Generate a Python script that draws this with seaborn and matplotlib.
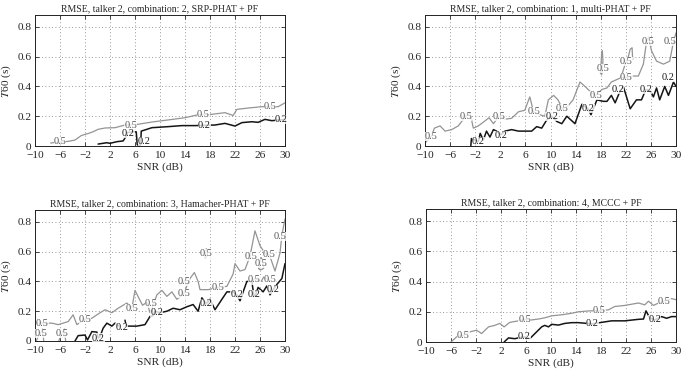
import matplotlib
matplotlib.use("Agg")
import matplotlib.pyplot as plt
import seaborn as sns

# ---------------- data ----------------
x_ticks = [-10, -6, -2, 2, 6, 10, 14, 18, 22, 26, 30]
y_ticks = [0, 0.2, 0.4, 0.6, 0.8]
x_tick_labels = ["\u221210", "\u22126", "\u22122", "2", "6", "10", "14", "18", "22", "26", "30"]
y_tick_labels = ["0", "0.2", "0.4", "0.6", "0.8"]
titles = [
    "RMSE, talker 2, combination: 2, SRP-PHAT + PF",
    "RMSE, talker 2, combination: 1, multi-PHAT + PF",
    "RMSE, talker 2, combination: 3, Hamacher-PHAT + PF",
    "RMSE, talker 2, combination: 4, MCCC + PF",
]
x_label = "SNR (dB)"
y_label = "$T$60 (s)"

# Panel 1: SRP-PHAT + PF
p1_gray_x = [-7.5, -6.5, -4.7, -3.6, -2.6, -2.0, -1.4, -0.7, 0.1, 1.2, 2.8, 4.4, 6.5, 8.7, 11.3, 14.0,
             16.1, 18.3, 20.4, 21.7, 22.3, 24.1, 26.3, 28.9, 30.0]
p1_gray_y = [0.02, 0.025, 0.031, 0.04, 0.07, 0.078, 0.085, 0.096, 0.112, 0.121, 0.123, 0.141, 0.146,
             0.161, 0.175, 0.19, 0.21, 0.213, 0.224, 0.205, 0.246, 0.255, 0.264, 0.264, 0.29]
p1_black_x = [0.1, 1.5, 2.0, 3.1, 4.1, 4.5, 4.8, 5.5, 6.2, 6.35, 6.5, 6.9, 7.0, 7.6, 8.7, 11.3, 13.5,
              15.6, 18.8, 20.4, 22.0, 23.1, 24.7, 25.7, 26.8, 27.9, 30.0]
p1_black_y = [0.013, 0.022, 0.018, 0.029, 0.034, 0.06, 0.09, 0.096, 0.095, 0.01, 0.005, 0.005, 0.1,
              0.108, 0.123, 0.13, 0.137, 0.137, 0.141, 0.152, 0.134, 0.157, 0.163, 0.159, 0.179, 0.17, 0.179]
p1_gray_lab_x = [-6.0, 5.3, 16.9, 27.6]
p1_gray_lab_y = [0.03, 0.14, 0.21, 0.262]
p1_black_lab_x = [4.9, 7.5, 17.1, 29.4]
p1_black_lab_y = [0.085, 0.03, 0.135, 0.178]

# Panel 2: multi-PHAT + PF
p2_gray_x = [-10.0, -9.0, -8.5, -7.6, -6.8, -5.75, -4.7, -3.5, -2.8, -2.3, -1.5, -0.4, 0.2, 0.9, 1.8,
             2.75, 3.8, 4.9, 5.9, 6.7, 7.3, 8.3, 9.1, 9.65, 10.5, 11.2, 11.9, 12.8, 13.6, 14.7, 15.5,
             16.6, 17.2, 18.2, 19.0, 19.7, 20.5, 21.3, 22.1, 23.0, 24.0, 24.8, 25.3, 25.6, 26.1, 26.9,
             28.0, 29.0, 29.5, 30.0]
p2_gray_y = [0.02, 0.065, 0.12, 0.135, 0.10, 0.11, 0.135, 0.2, 0.22, 0.12, 0.135, 0.17, 0.19, 0.15,
             0.2, 0.18, 0.186, 0.23, 0.24, 0.33, 0.23, 0.21, 0.2, 0.31, 0.34, 0.31, 0.25, 0.27, 0.31,
             0.43, 0.4, 0.355, 0.34, 0.38, 0.39, 0.43, 0.445, 0.46, 0.46, 0.47, 0.47, 0.55, 0.7, 0.73,
             0.64, 0.57, 0.55, 0.57, 0.68, 0.76]
p2_gray2_x = [17.95, 18.05, 18.15, 18.25, 18.35, 18.3, 18.15, 17.95]
p2_gray2_y = [0.49, 0.55, 0.62, 0.64, 0.58, 0.52, 0.48, 0.49]
p2_gray3_x = [21.3, 21.9, 22.4, 22.7, 23.0, 23.1]
p2_gray3_y = [0.47, 0.55, 0.6, 0.65, 0.66, 0.58]
p2_black_x = [-2.7, -2.6, -1.5, -1.2, -0.7, -0.2, 0.35, 0.9, 1.4, 2.1, 2.75, 3.8, 4.9, 7.0, 7.8, 8.6,
              9.4, 10.2, 11.0, 11.8, 12.6, 13.9, 15.0, 16.0, 16.45, 17.4, 18.4, 19.0, 19.7, 20.3, 21.1,
              21.6, 22.7, 23.7, 24.5, 25.2, 25.9, 26.4, 26.9, 27.4, 28.2, 28.8, 29.6, 30.0]
p2_black_y = [0.0, 0.05, 0.03, 0.085, 0.04, 0.1, 0.06, 0.11, 0.1, 0.075, 0.1, 0.11, 0.1, 0.1, 0.13,
              0.12, 0.175, 0.2, 0.165, 0.15, 0.2, 0.15, 0.28, 0.25, 0.21, 0.31, 0.3, 0.3, 0.34, 0.29,
              0.37, 0.4, 0.25, 0.31, 0.31, 0.38, 0.37, 0.33, 0.39, 0.31, 0.4, 0.34, 0.43, 0.4]
p2_gray_lab_x = [-9.0, -3.5, 1.8, 7.3, 11.9, 17.2, 18.3, 22.1, 22.1, 25.6, 29.0]
p2_gray_lab_y = [0.065, 0.2, 0.2, 0.23, 0.25, 0.34, 0.52, 0.46, 0.57, 0.70, 0.70]
p2_black_lab_x = [-1.5, 2.1, 10.2, 16.0, 20.7, 25.2, 28.8]
p2_black_lab_y = [0.03, 0.07, 0.2, 0.25, 0.38, 0.38, 0.46]

# Panel 3: Hamacher-PHAT + PF
p3_gray_x = [-10.0, -8.8, -7.3, -6.3, -4.7, -3.9, -3.3, -2.0, -0.9, -0.1, 1.2, 2.3, 3.3, 4.1, 4.7,
             5.5, 6.0, 7.2, 7.9, 8.4, 8.9, 9.5, 10.3, 11.1, 11.9, 12.7, 13.3, 13.8, 14.2, 14.8, 15.5,
             16.1, 16.4, 17.7, 19.3, 20.7, 21.7, 22.0, 22.8, 23.6, 24.4, 25.2, 26.0, 26.8, 27.5,
             28.4, 29.2, 29.5, 30.0]
p3_gray_y = [0.12, 0.12, 0.12, 0.11, 0.13, 0.176, 0.11, 0.146, 0.153, 0.176, 0.21, 0.19, 0.22, 0.24,
             0.255, 0.22, 0.34, 0.24, 0.26, 0.19, 0.24, 0.31, 0.34, 0.30, 0.33, 0.28, 0.30, 0.32, 0.36,
             0.42, 0.46, 0.40, 0.345, 0.345, 0.36, 0.367, 0.45, 0.52, 0.47, 0.48, 0.57, 0.74, 0.64,
             0.59, 0.58, 0.47, 0.59, 0.71, 0.82]
p3_gray2_x = [-9.8, -9.5, -9.1, -8.8, -8.6]
p3_gray2_y = [0.0, 0.03, 0.055, 0.08, 0.0]
p3_gray3_x = [-6.2, -5.9, -5.6, -5.3, -5.1]
p3_gray3_y = [0.0, 0.03, 0.055, 0.08, 0.0]
p3_gray4_x = [13.2, 13.8, 14.3]
p3_gray4_y = [0.38, 0.40, 0.42]
p3_gray5_x = [17.2, 17.3, 17.4, 17.6, 17.5, 17.3, 17.2]
p3_gray5_y = [0.56, 0.60, 0.62, 0.60, 0.57, 0.56, 0.56]
p3_gray6_x = [24.6, 25.2, 25.6, 26.2, 26.6, 27.4, 28.0]
p3_gray6_y = [0.40, 0.42, 0.41, 0.40, 0.43, 0.41, 0.40]
p3_gray7_x = [25.8, 26.0, 26.2, 26.5, 26.6, 26.3, 25.9, 25.8]
p3_gray7_y = [0.49, 0.54, 0.56, 0.53, 0.49, 0.48, 0.48, 0.49]
p3_black_x = [-3.6, -3.1, -2.0, -1.6, -0.9, -0.1, 0.1, 0.4, 0.9, 1.5, 2.3, 2.8, 3.4]
p3_black_y = [0.0, 0.036, 0.04, 0.007, 0.063, 0.06, 0.02, 0.03, 0.086, 0.12, 0.1, 0.12, 0.1]
p3_black2_x = [4.4, 4.6, 4.9, 6.3, 7.6, 8.4, 8.9, 9.2, 10.0, 11.1, 12.1, 13.2, 14.3, 15.3, 16.1,
               16.7, 17.4, 18.0, 18.8, 19.9, 20.7, 21.7, 22.3, 22.8, 23.3, 23.9, 24.7, 25.0, 25.2,
               25.7, 26.5, 27.1, 27.6, 28.1, 28.7, 29.5, 30.0]
p3_black2_y = [0.14, 0.1, 0.1, 0.1, 0.11, 0.165, 0.17, 0.2, 0.19, 0.2, 0.22, 0.21, 0.23, 0.245, 0.2,
               0.29, 0.25, 0.28, 0.21, 0.28, 0.33, 0.33, 0.31, 0.27, 0.33, 0.4, 0.4, 0.31, 0.30, 0.36,
               0.33, 0.37, 0.31, 0.345, 0.38, 0.42, 0.52]
p3_gray_lab_x = [-9.1, -8.8, -5.6, -2.0, 5.5, 8.6, 13.8, 13.8, 17.4, 19.3, 24.5, 27.5, 26.2, 29.2, 25.1, 27.6]
p3_gray_lab_y = [0.05, 0.12, 0.05, 0.146, 0.22, 0.25, 0.40, 0.32, 0.59, 0.36, 0.57, 0.58, 0.52, 0.70, 0.41, 0.41]
p3_black_lab_x = [0.1, 3.9, 9.5, 17.4, 22.3, 25.1, 28.1]
p3_black_lab_y = [0.02, 0.09, 0.19, 0.25, 0.31, 0.31, 0.345]

# Panel 4: MCCC + PF
p4_gray_x = [-6.0, -5.1, -4.0, -3.0, -1.9, -1.1, 0.0, 1.0, 1.8, 2.5, 3.4, 4.8, 5.8, 6.9, 8.0, 9.0,
             10.1, 11.7, 13.3, 14.4, 16.2, 17.7, 19.2, 20.2, 21.8, 22.9, 24.0, 25.0, 25.6, 26.4,
             27.2, 28.1, 29.3, 30.0]
p4_gray_y = [0.0, 0.034, 0.045, 0.067, 0.078, 0.056, 0.1, 0.11, 0.123, 0.1, 0.13, 0.14, 0.15, 0.146,
             0.152, 0.16, 0.173, 0.18, 0.19, 0.2, 0.206, 0.206, 0.213, 0.235, 0.242, 0.25, 0.258,
             0.246, 0.27, 0.242, 0.258, 0.27, 0.287, 0.28]
p4_black_x = [2.5, 3.2, 4.2, 4.8, 5.7, 6.6, 7.7, 8.5, 9.0, 9.6, 10.1, 11.2, 12.2, 13.3, 14.4, 16.6,
              18.1, 19.7, 21.8, 24.0, 24.8, 25.2, 25.8, 26.6, 27.7, 28.5, 29.3, 30.0]
p4_black_y = [0.0, 0.027, 0.022, 0.027, 0.034, 0.022, 0.067, 0.1, 0.11, 0.1, 0.117, 0.112, 0.123,
              0.128, 0.128, 0.12, 0.13, 0.14, 0.14, 0.15, 0.152, 0.206, 0.16, 0.146, 0.168, 0.157,
              0.168, 0.168]
p4_gray_lab_x = [-4.0, 5.8, 17.7, 28.1]
p4_gray_lab_y = [0.04, 0.15, 0.206, 0.27]
p4_black_lab_x = [5.7, 16.6, 26.6]
p4_black_lab_y = [0.034, 0.12, 0.146]

# ---------------- style ----------------
sns.set_style("ticks")
plt.rcParams["font.family"] = ["Liberation Serif", "DejaVu Serif"]
plt.rcParams["mathtext.fontset"] = "stix"
plt.rcParams["axes.unicode_minus"] = True

GRAY = "#949494"
GRAY_TXT = "#555555"
BLACK = "#151515"

fig = plt.figure(figsize=(6.85, 3.70), dpi=100)
W, H = 685.0, 370.0
rects = [
    (35 / W, 1 - 146 / H, 250 / W, 131 / H),
    (425 / W, 1 - 146 / H, 251 / W, 131 / H),
    (35 / W, 1 - 341 / H, 250 / W, 131 / H),
    (426 / W, 1 - 342 / H, 250 / W, 133 / H),
]
axes = [fig.add_axes(r) for r in rects]

panels = [
    dict(gray=[(p1_gray_x, p1_gray_y)], black=[(p1_black_x, p1_black_y)],
         gl=(p1_gray_lab_x, p1_gray_lab_y), bl=(p1_black_lab_x, p1_black_lab_y)),
    dict(gray=[(p2_gray_x, p2_gray_y), (p2_gray2_x, p2_gray2_y), (p2_gray3_x, p2_gray3_y)],
         black=[(p2_black_x, p2_black_y)],
         gl=(p2_gray_lab_x, p2_gray_lab_y), bl=(p2_black_lab_x, p2_black_lab_y)),
    dict(gray=[(p3_gray_x, p3_gray_y), (p3_gray2_x, p3_gray2_y), (p3_gray3_x, p3_gray3_y),
               (p3_gray4_x, p3_gray4_y), (p3_gray5_x, p3_gray5_y), (p3_gray6_x, p3_gray6_y),
               (p3_gray7_x, p3_gray7_y)],
         black=[(p3_black_x, p3_black_y), (p3_black2_x, p3_black2_y)],
         gl=(p3_gray_lab_x, p3_gray_lab_y), bl=(p3_black_lab_x, p3_black_lab_y)),
    dict(gray=[(p4_gray_x, p4_gray_y)], black=[(p4_black_x, p4_black_y)],
         gl=(p4_gray_lab_x, p4_gray_lab_y), bl=(p4_black_lab_x, p4_black_lab_y)),
]

for ax, title, pd_ in zip(axes, titles, panels):
    for xs, ys in pd_["gray"]:
        sns.lineplot(x=xs, y=ys, sort=False, estimator=None, ax=ax, color=GRAY, lw=0.9, legend=False)
    for xs, ys in pd_["black"]:
        sns.lineplot(x=xs, y=ys, sort=False, estimator=None, ax=ax, color=BLACK, lw=1.1, legend=False)
    for x, y in zip(*pd_["gl"]):
        ax.text(x, y, "0.5", ha="center", va="center", fontsize=7.4, color=GRAY_TXT, zorder=5,
                bbox=dict(fc="white", ec="none", pad=0.05, alpha=0.8))
    for x, y in zip(*pd_["bl"]):
        ax.text(x, y, "0.2", ha="center", va="center", fontsize=7.4, color=BLACK, zorder=5,
                bbox=dict(fc="white", ec="none", pad=0.05, alpha=0.8))

    ax.set_xlim(-10, 30)
    ax.set_ylim(0, 0.88)
    ax.set_xticks(x_ticks)
    ax.set_xticklabels(x_tick_labels)
    ax.set_yticks(y_ticks)
    ax.set_yticklabels(y_tick_labels)
    ax.grid(True, ls=(0, (1, 3)), color="#777777", lw=0.6)
    ax.tick_params(direction="in", length=3, width=0.6, labelsize=8.2, top=True, right=True)
    ax.tick_params(axis="x", pad=3.5)
    ax.tick_params(axis="y", pad=2.5)
    for s in ax.spines.values():
        s.set_visible(True)
        s.set_linewidth(0.7)
        s.set_color("#222222")
    ax.set_title(title, fontsize=7.0, pad=2.5)
    ax.set_xlabel(x_label, fontsize=8.2, labelpad=2)
    ax.set_ylabel(y_label, fontsize=8.2, labelpad=3)

fig.savefig("out.png", dpi=100, facecolor="white")
